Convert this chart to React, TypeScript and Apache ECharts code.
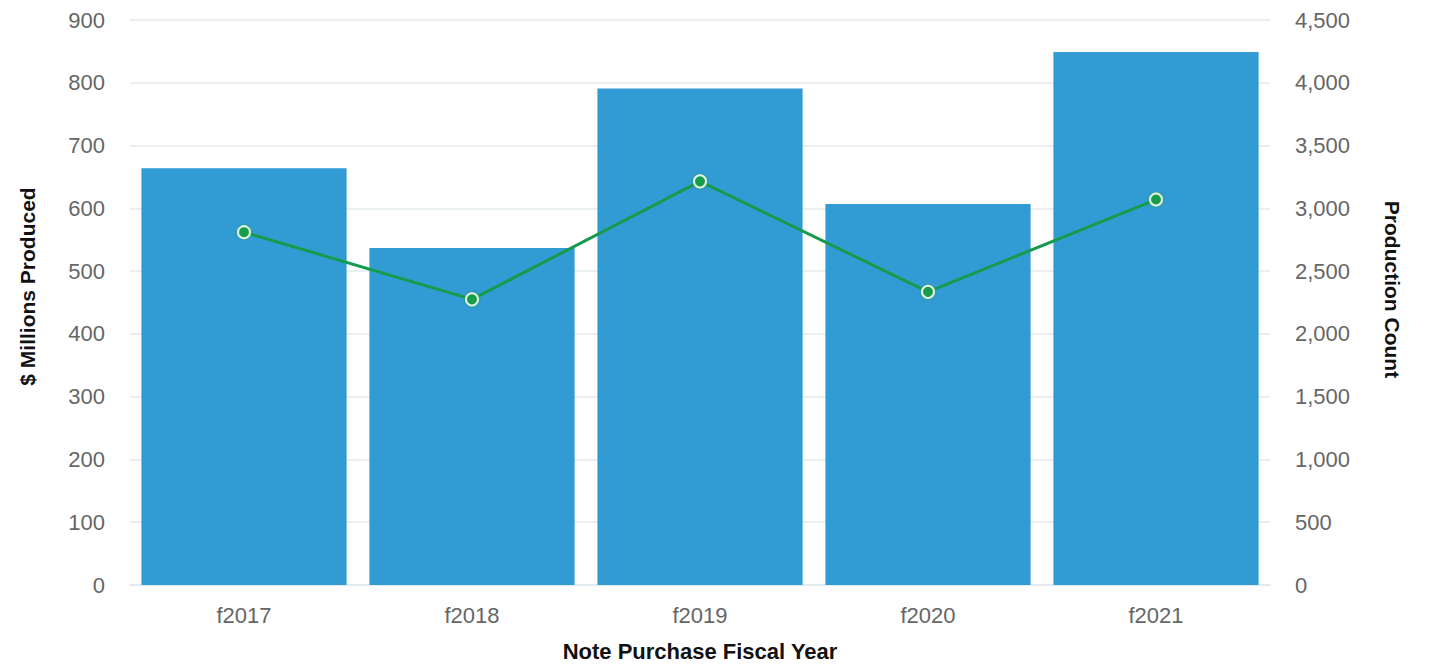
import React, { useEffect, useRef } from "react";
import * as echarts from "echarts";

const categories = ["f2017", "f2018", "f2019", "f2020", "f2021"];
const millionsProduced = [664, 537, 791, 607, 849];
const productionCount = [2810, 2275, 3215, 2335, 3070];

export default function App() {
  const ref = useRef<HTMLDivElement>(null);
  useEffect(() => {
    if (!ref.current) return;
    const chart = echarts.init(ref.current, null, { renderer: "svg" });
    const font = "Liberation Sans, Arial, sans-serif";
    const labelStyle = { color: "#666", fontSize: 22, fontFamily: font };
    const nameBase = { color: "#111", fontWeight: "bold" as const, fontFamily: font };
    chart.setOption({
      animation: false,
      grid: { left: 130, right: 165, top: 20, bottom: 82, containLabel: false },
      xAxis: {
        type: "category",
        data: categories,
        name: "Note Purchase Fiscal Year",
        nameLocation: "middle",
        nameGap: 55,
        nameTextStyle: { ...nameBase, fontSize: 22 },
        axisLine: { show: true, lineStyle: { color: "#e3ebee", width: 2 } },
        axisTick: { show: false },
        axisLabel: { ...labelStyle, margin: 19 },
      },
      yAxis: [
        {
          type: "value",
          min: 0,
          max: 900,
          interval: 100,
          name: "$ Millions Produced",
          nameLocation: "middle",
          nameRotate: 90,
          nameGap: 92,
          nameTextStyle: { ...nameBase, fontSize: 21, padding: [0, 0, 0, 32] },
          axisLine: { show: false },
          axisTick: { show: false },
          axisLabel: { ...labelStyle, margin: 25 },
          splitLine: { lineStyle: { color: "#e3ebee", width: 1.5 } },
        },
        {
          type: "value",
          min: 0,
          max: 4500,
          interval: 500,
          name: "Production Count",
          nameLocation: "middle",
          nameRotate: -90,
          nameGap: 112,
          nameTextStyle: { ...nameBase, fontSize: 21, padding: [0, 26, 0, 0] },
          axisLine: { show: false },
          axisTick: { show: false },
          axisLabel: {
            ...labelStyle,
            margin: 25,
            formatter: (v: number) => v.toLocaleString("en-US"),
          },
          splitLine: { show: false },
        },
      ],
      series: [
        {
          type: "bar",
          name: "$ Millions Produced",
          data: millionsProduced,
          yAxisIndex: 0,
          barCategoryGap: "10%",
          itemStyle: { color: "#339bd4" },
        },
        {
          type: "line",
          name: "Production Count",
          data: productionCount,
          yAxisIndex: 1,
          symbol: "circle",
          symbolSize: 12,
          lineStyle: { color: "#149c4c", width: 3 },
          itemStyle: {
            color: "#149c4c",
            borderColor: "#dff3e2",
            borderWidth: 2,
            shadowColor: "#149c4c",
            shadowBlur: 2,
          },
        },
      ],
    });
    return () => chart.dispose();
  }, []);
  return <div ref={ref} style={{ width: 1435, height: 667, position: "absolute", left: 0, top: 0 }} />;
}
